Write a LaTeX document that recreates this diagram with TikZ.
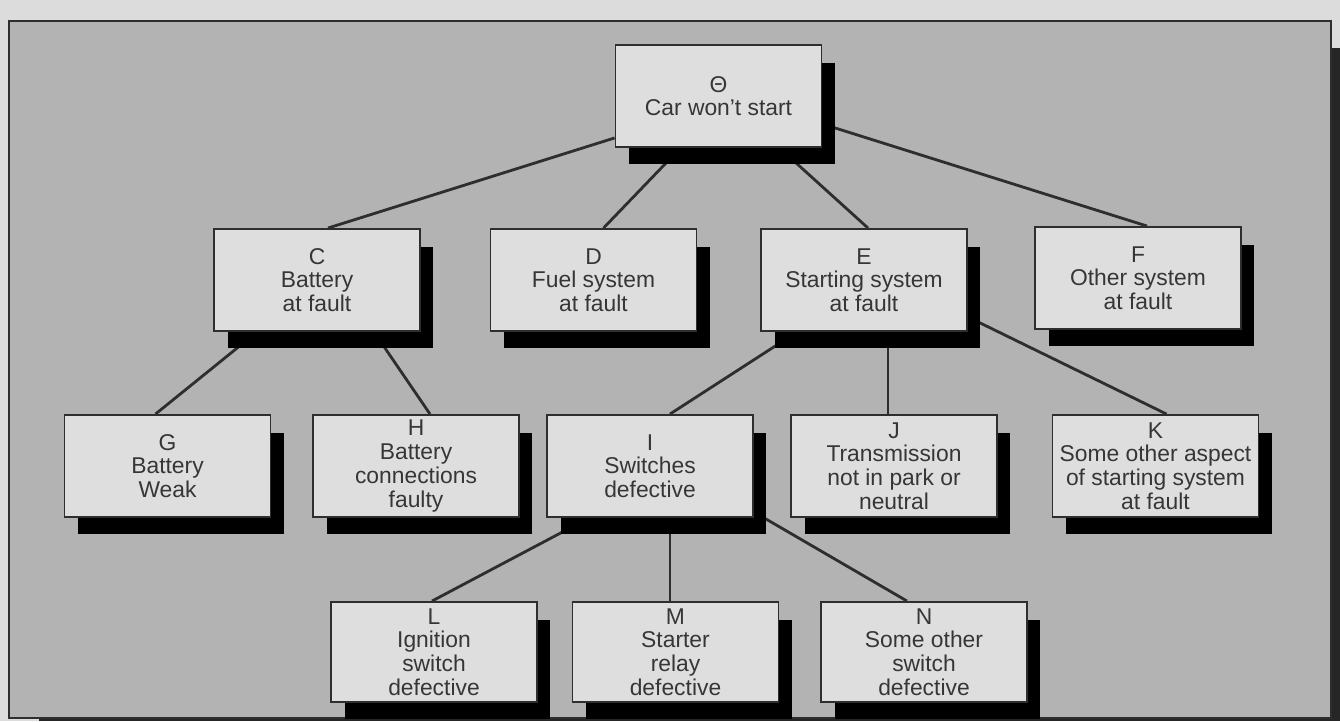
\documentclass[tikz,border=0pt]{standalone}
\usepackage{fontspec}
\setmainfont{Liberation Sans}
\usetikzlibrary{shadows,backgrounds,calc}
\pgfdeclarelayer{panel}
\pgfsetlayers{panel,background,main}
\definecolor{pagebg}{HTML}{DCDCDC}
\definecolor{panelbg}{HTML}{B3B3B3}
\definecolor{boxfill}{HTML}{DEDEDE}
\definecolor{ink}{HTML}{2E2E2E}
\definecolor{txt}{HTML}{363636}
\tikzset{
  faultbox/.style={draw=ink, fill=boxfill, line width=1.1pt,
    minimum width=4.12cm, minimum height=2.04cm, inner sep=0pt,
    align=center, text=txt,
    font=\fontsize{13}{13.5}\selectfont,
    drop shadow={shadow xshift=0.27cm, shadow yshift=-0.35cm, fill=black, opacity=1}},
  lowbox/.style={faultbox, minimum height=2cm},
  link/.style={draw=ink, line width=1.6pt}
}
\begin{document}
\begin{tikzpicture}[x=0.02cm, y=-0.02cm]
  \useasboundingbox (0,0) rectangle (1340,721);
  % page and panel
  \begin{pgfonlayer}{panel}
    \fill[pagebg] (0,0) rectangle (1340,721);
    \fill[black!85] (39,48) rectangle (1340,721);
    \draw[ink, line width=1.4pt, fill=panelbg] (9,21) rectangle (1331,718);
  \end{pgfonlayer}

  % top event
  \node[faultbox] (top) at (718.5,96) {Θ\\Car won’t start};

  % first level
  \node[faultbox] (C) at (317,280) {C\\Battery\\at fault};
  \node[faultbox] (D) at (593.5,280) {D\\Fuel system\\at fault};
  \node[faultbox] (E) at (864,280) {E\\Starting system\\at fault};
  \node[faultbox] (F) at (1138,278) {F\\Other system\\at fault};

  % second level
  \node[faultbox] (G) at (167.5,466) {G\\Battery\\Weak};
  \node[faultbox] (H) at (416,466) {H\\Battery\\connections\\faulty};
  \node[faultbox] (I) at (650,466) {I\\Switches\\defective};
  \node[faultbox] (J) at (894,466) {J\\Transmission\\not in park or\\neutral};
  \node[faultbox] (K) at (1155.5,466) {K\\Some other aspect\\of starting system\\at fault};

  % third level
  \node[lowbox] (L) at (434,652) {L\\Ignition\\switch\\defective};
  \node[lowbox] (M) at (675.5,652) {M\\Starter\\relay\\defective};
  \node[lowbox] (N) at (924,652) {N\\Some other\\switch\\defective};

  % connectors, behind the boxes and their shadows
  \begin{scope}[on background layer]
    \draw[link] ([shift={(0,-10)}]top.south west) -- ([shift={(11,0)}]C.north);
    \draw[link] ([shift={(-38,0)}]top.south) -- ([shift={(10,0)}]D.north);
    \draw[link] ([shift={(61,0)}]top.south) -- ([shift={(4,0)}]E.north);
    \draw[link] ([shift={(0,28)}]top.east) -- ([shift={(9,0)}]F.north);

    \draw[link] ([shift={(-60,0)}]C.south) -- ([shift={(-12,0)}]G.north);
    \draw[link] ([shift={(57,0)}]C.south) -- ([shift={(14,0)}]H.north);

    \draw[link] ([shift={(-67,0)}]E.south) -- ([shift={(20,0)}]I.north);
    \draw[link] ([shift={(24,0)}]E.south) -- ([shift={(-6,0)}]J.north);
    \draw[link] ([shift={(0,37)}]E.east) -- ([shift={(11,0)}]K.north);

    \draw[link] ([shift={(-61,0)}]I.south) -- ([shift={(-2,0)}]L.north);
    \draw[link] ([shift={(20,0)}]I.south) -- ([shift={(-5.5,0)}]M.north);
    \draw[link] ([shift={(0,46)}]I.east) -- ([shift={(-17,0)}]N.north);
  \end{scope}
\end{tikzpicture}
\end{document}
